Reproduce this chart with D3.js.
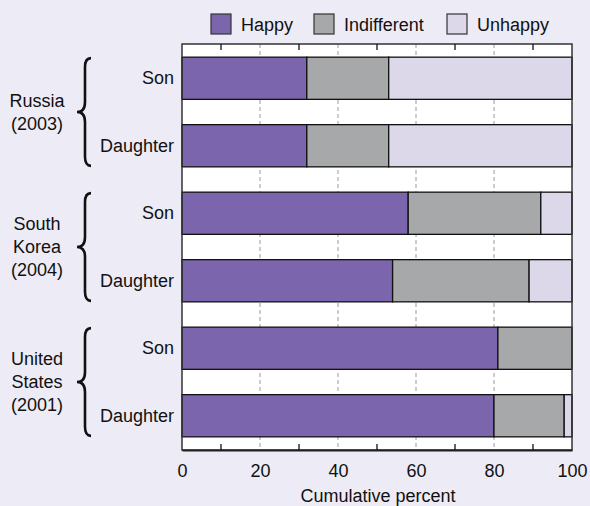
<!DOCTYPE html>
<html>
<head>
<meta charset="utf-8">
<script src="https://cdn.jsdelivr.net/npm/d3@7"></script>
<style>
  body { margin: 0; background: #edebf5; }
  svg { display: block; font-family: "Liberation Sans", Arial, sans-serif; }
</style>
</head>
<body>
<script>
'use strict';

// data
const countries = [["Russia", "(2003)"], ["South", "Korea", "(2004)"], ["United", "States", "(2001)"]];
const children = ["Son", "Daughter"];
const rows = ["ru-son", "ru-dau", "kr-son", "kr-dau", "us-son", "us-dau"];
const categories = ["Happy", "Indifferent", "Unhappy"];
const happy = [32, 32, 58, 54, 81, 80];
const indifferent = [21, 21, 34, 35, 19, 18];
const unhappy = [47, 47, 8, 11, 0, 2];
const tickLabels = [0, 20, 40, 60, 80, 100];
const minorTicks = [10, 30, 50, 70, 90];
const gridLines = [20, 40, 60, 80];

const colors = ["#7b66ad", "#a7a8aa", "#dcd8ea"];

window.onload = function() {
  const width = 590, height = 506;
  const margin = {top: 44, right: 18, bottom: 56, left: 182};
  const fs = 18;

  const svg = d3.select("body").append("svg")
    .attr("width", width)
    .attr("height", height);

  const x = d3.scaleLinear().domain([0, 100]).range([margin.left, width - margin.right]);
  const y = d3.scaleBand().domain(rows)
    .range([margin.top, height - margin.bottom])
    .paddingInner(0.375).paddingOuter(0.195);

  // plot background
  svg.append("rect")
    .attr("x", x(0)).attr("y", margin.top)
    .attr("width", x(100) - x(0)).attr("height", height - margin.bottom - margin.top)
    .attr("fill", "#fff");

  // dashed grid
  svg.selectAll(".grid").data(gridLines).enter().append("line")
    .attr("x1", d => x(d)).attr("x2", d => x(d))
    .attr("y1", margin.top).attr("y2", height - margin.bottom)
    .attr("stroke", "#9a9a9a").attr("stroke-width", 1)
    .attr("stroke-dasharray", "4,3");

  // stacked bars
  const table = rows.map((r, i) => ({row: r, Happy: happy[i], Indifferent: indifferent[i], Unhappy: unhappy[i]}));
  const stack = d3.stack().keys(categories)(table);

  svg.selectAll(".series").data(stack).enter().append("g")
      .attr("fill", (d, i) => colors[i])
    .selectAll("rect").data(d => d.filter(p => p[1] > p[0])).enter().append("rect")
      .attr("x", d => x(d[0]))
      .attr("width", d => x(d[1]) - x(d[0]))
      .attr("y", d => y(d.data.row))
      .attr("height", y.bandwidth())
      .attr("stroke", "#111").attr("stroke-width", 1.3);

  // frame
  svg.append("rect")
    .attr("x", x(0)).attr("y", margin.top)
    .attr("width", x(100) - x(0)).attr("height", height - margin.bottom - margin.top)
    .attr("fill", "none").attr("stroke", "#333").attr("stroke-width", 1.5);

  // bottom axis
  const xAxis = d3.axisBottom(x).tickValues(tickLabels).tickSize(0).tickPadding(14);
  const gx = svg.append("g")
    .attr("transform", "translate(0," + (height - margin.bottom) + ")")
    .call(xAxis);
  gx.select(".domain").attr("stroke", "#222").attr("stroke-width", 2);
  gx.selectAll("text").attr("font-size", fs).attr("fill", "#111")
    .attr("font-family", "Liberation Sans, Arial, sans-serif");

  // minor ticks inward, top and bottom
  svg.selectAll(".tb").data(minorTicks).enter().append("line")
    .attr("x1", d => x(d)).attr("x2", d => x(d))
    .attr("y1", height - margin.bottom).attr("y2", height - margin.bottom - 6)
    .attr("stroke", "#111").attr("stroke-width", 1.3);
  svg.selectAll(".tt").data(minorTicks).enter().append("line")
    .attr("x1", d => x(d)).attr("x2", d => x(d))
    .attr("y1", margin.top).attr("y2", margin.top + 6)
    .attr("stroke", "#111").attr("stroke-width", 1.3);

  svg.append("text")
    .attr("x", (x(0) + x(100)) / 2 + 1).attr("y", 502)
    .attr("text-anchor", "middle").attr("font-size", fs).attr("fill", "#111")
    .text("Cumulative percent");

  // son / daughter labels
  svg.selectAll(".rowlab").data(rows).enter().append("text")
    .attr("x", x(0) - 8)
    .attr("y", d => y(d) + y.bandwidth() / 2 + 6)
    .attr("text-anchor", "end").attr("font-size", fs).attr("fill", "#111")
    .text((d, i) => children[i % 2]);

  // country labels and braces
  countries.forEach((lines, g) => {
    const top = y(rows[g * 2]);
    const bot = y(rows[g * 2 + 1]) + y.bandwidth();
    const mid = (top + bot) / 2;
    const lh = 23;
    const t = svg.append("text")
      .attr("text-anchor", "middle").attr("font-size", fs).attr("fill", "#111");
    lines.forEach((l, k) => {
      t.append("tspan")
        .attr("x", 37)
        .attr("y", mid + 6 + (k - (lines.length - 1) / 2) * lh)
        .text(l);
    });
    const bx = 85, tip = 77, end = 91, c = 10;
    const p = d3.path();
    p.moveTo(end, top + 1);
    p.quadraticCurveTo(bx, top + 1, bx, top + c);
    p.lineTo(bx, mid - c);
    p.quadraticCurveTo(bx, mid, tip, mid);
    p.quadraticCurveTo(bx, mid, bx, mid + c);
    p.lineTo(bx, bot - c);
    p.quadraticCurveTo(bx, bot - 1, end, bot - 1);
    svg.append("path").attr("d", p.toString())
      .attr("fill", "none").attr("stroke", "#111").attr("stroke-width", 2.6);
  });

  // legend
  const legendX = [211, 314, 447];
  const lg = svg.selectAll(".leg").data(categories).enter().append("g")
    .attr("transform", (d, i) => "translate(" + legendX[i] + ",14)");
  lg.append("rect")
    .attr("width", 20).attr("height", 20)
    .attr("fill", (d, i) => colors[i])
    .attr("stroke", "#333").attr("stroke-width", 1.2);
  lg.append("text")
    .attr("x", 30).attr("y", 17)
    .attr("font-size", fs).attr("fill", "#111")
    .text(d => d);
};
</script>
</body>
</html>
